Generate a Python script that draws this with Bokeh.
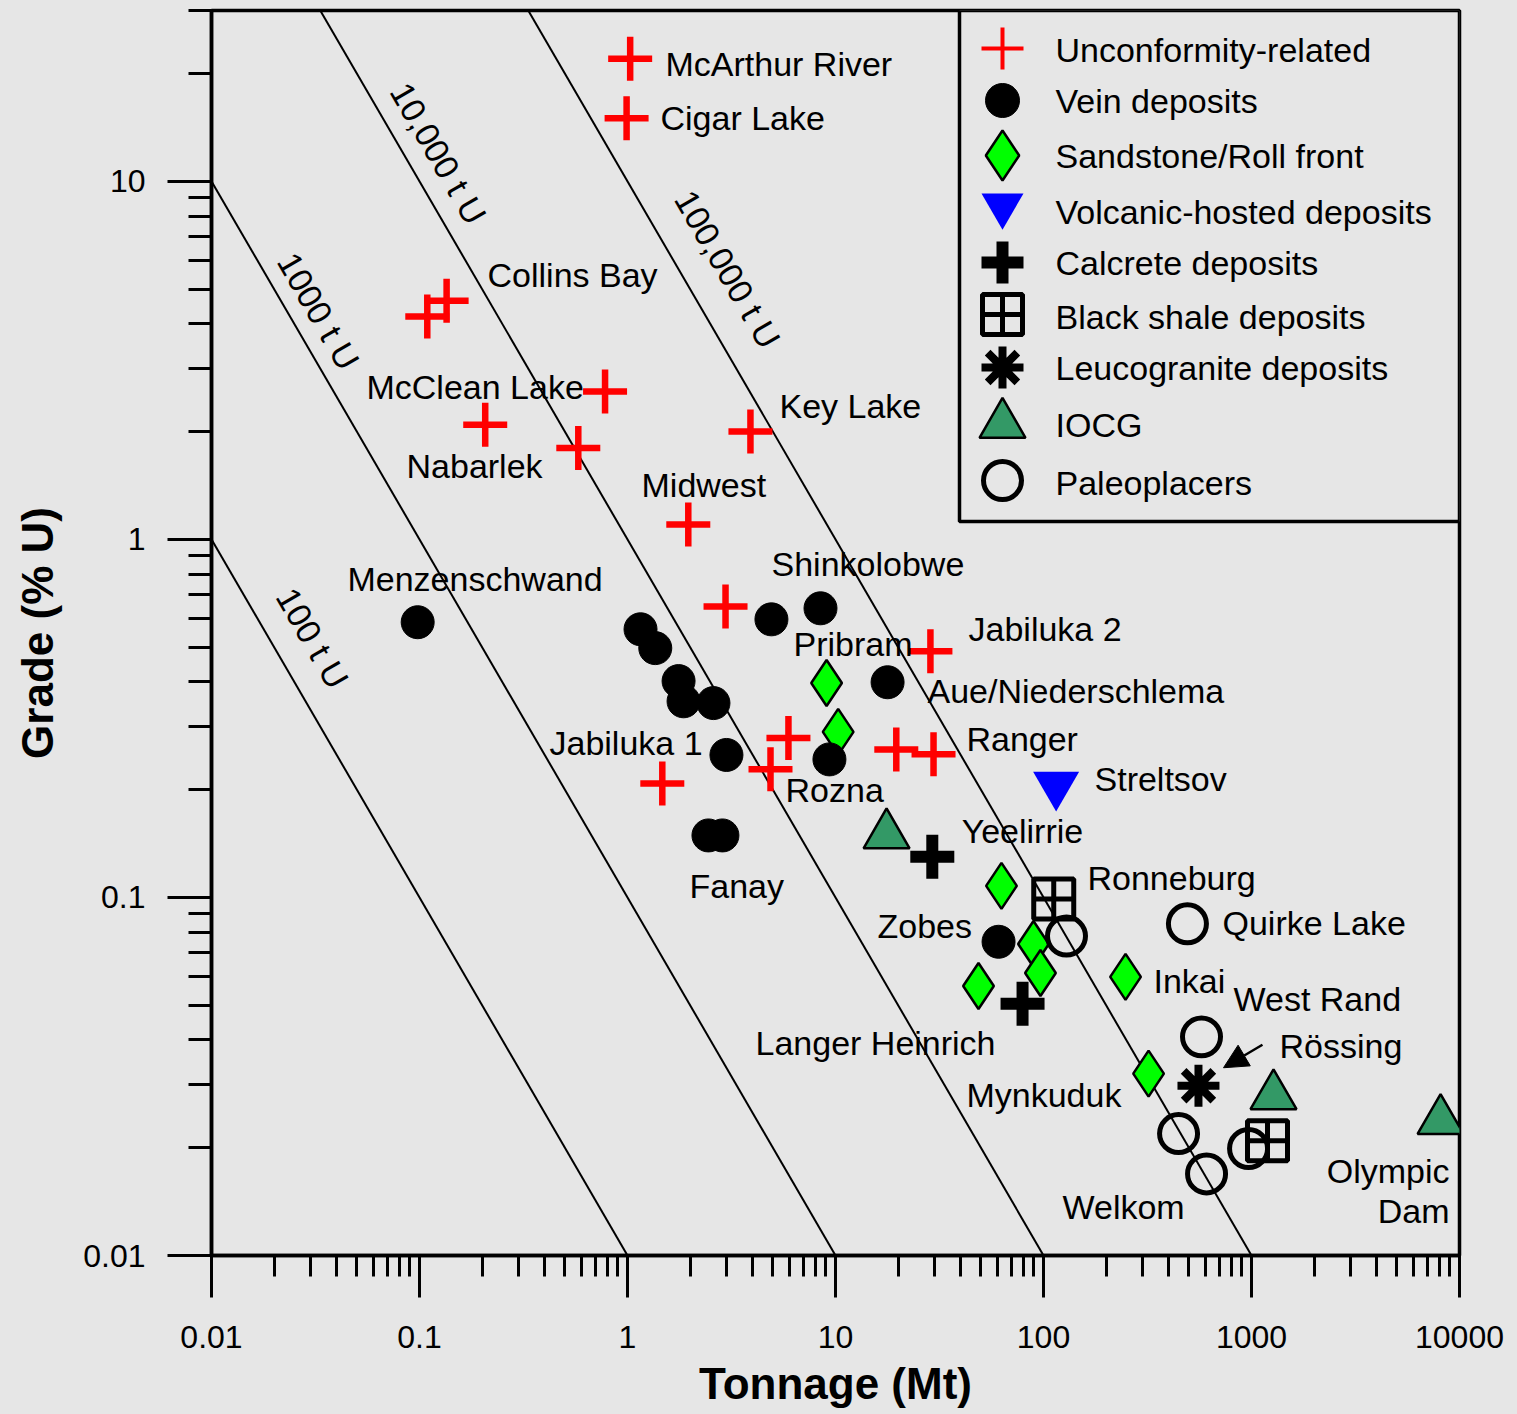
import math
from bokeh.plotting import figure
from bokeh.models import (Range1d, LinearScale, FixedTicker, CustomJSTickFormatter,
                          Arrow, NormalHead)
from bokeh.core.properties import value
from bokeh.embed import file_html
from bokeh.resources import INLINE

# ---------------- data (tonnage in Mt, grade in % U) ----------------
unc_tonnage = [1.03, 0.99, 0.109, 0.135, 0.78, 0.207, 0.58, 3.9, 1.96, 2.96, 28.6, 5.94, 4.87, 1.47, 19.6, 29.6]
unc_grade = [22.0, 15.0, 4.19, 4.64, 2.59, 2.09, 1.80, 2.0, 1.10, 0.65, 0.487, 0.279, 0.228, 0.208, 0.259, 0.251]

vein_tonnage = [0.098, 1.155, 1.36, 1.76, 1.86, 2.59, 2.99, 4.92, 8.47, 17.8, 9.35, 2.45, 2.86, 60.8]
vein_grade = [0.587, 0.561, 0.497, 0.402, 0.353, 0.349, 0.25, 0.598, 0.642, 0.399, 0.243, 0.149, 0.149, 0.0752]

sand_tonnage = [9.06, 10.3, 62.8, 89.5, 96.7, 48.7, 248, 320]
sand_grade = [0.397, 0.29, 0.1077, 0.0741, 0.0615, 0.0566, 0.060, 0.0322]

volc_tonnage = [115]
volc_grade = [0.206]

calc_tonnage = [29.2, 79.3]
calc_grade = [0.130, 0.0505]

shale_tonnage = [112, 1194]
shale_grade = [0.099, 0.0209]

leuco_tonnage = [556]
leuco_grade = [0.0298]

iocg_tonnage = [17.6, 1276, 8110]
iocg_grade = [0.1494, 0.0279, 0.0238]

paleo_tonnage = [129, 492, 575, 446, 608, 968]
paleo_grade = [0.078, 0.0844, 0.0408, 0.0219, 0.0169, 0.0199]

# contained-metal reference lines (t U)
contained_tU = [100, 1000, 10000, 100000]
contained_labels = ["100 t U", "1000 t U", "10,000 t U", "100,000 t U"]
contained_label_x = [0.0306, 0.0327, 0.1233, 3.03]
contained_label_y = [0.53, 4.34, 11.97, 5.68]

# deposit names
dep_names = ["McArthur River", "Cigar Lake", "Collins Bay", "McClean Lake", "Nabarlek", "Key Lake",
             "Midwest", "Menzenschwand", "Shinkolobwe", "Pribram", "Jabiluka 2", "Aue/Niederschlema",
             "Jabiluka 1", "Ranger", "Rozna", "Streltsov", "Yeelirrie", "Ronneburg", "Fanay", "Zobes",
             "Quirke Lake", "Inkai", "West Rand", "Langer Heinrich", "Rössing", "Mynkuduk", "Welkom"]
dep_label_x = [1.523, 1.441, 0.2123, 0.05561, 0.0866, 5.38,
               1.168, 0.04505, 4.924, 6.28, 43.6, 27.7,
               0.4217, 42.6, 5.75, 175.9, 40.4, 162.7, 1.986, 15.92,
               725.5, 338, 819.5, 4.125, 1363, 42.6, 123.4]
dep_label_y = [21.27, 15.04, 5.486, 2.672, 1.598, 2.365,
               1.415, 0.7733, 0.8516, 0.5095, 0.561, 0.3767,
               0.27, 0.2767, 0.1995, 0.2141, 0.1533, 0.1134, 0.1077, 0.0833,
               0.0849, 0.0585, 0.0521, 0.03927, 0.03853, 0.02812, 0.0137]
olympic_lines = ["Olympic", "Dam"]
olympic_x = [8955, 8955]
olympic_y = [0.01726, 0.01335]

arrow_from = (1129, 0.03878)
arrow_to = (733.6, 0.03345)

x_ticks = [0.01, 0.1, 1, 10, 100, 1000, 10000]
x_tick_labels = ["0.01", "0.1", "1", "10", "100", "1000", "10000"]
y_ticks = [0.01, 0.1, 1, 10]
y_tick_labels = ["0.01", "0.1", "1", "10"]

legend_labels = ["Unconformity-related", "Vein deposits", "Sandstone/Roll front",
                 "Volcanic-hosted deposits", "Calcrete deposits", "Black shale deposits",
                 "Leucogranite deposits", "IOCG", "Paleoplacers"]

X_MIN, X_MAX = 0.01, 10000
Y_MIN, Y_MAX = 0.01, 30

BG = "#e6e6e6"
FONT = "Liberation Sans"

p = figure(width=1517, height=1414, x_axis_type="log", y_axis_type="log",
           x_range=Range1d(X_MIN, X_MAX), y_range=Range1d(Y_MIN, Y_MAX),
           output_backend="svg", toolbar_location=None,
           min_border_left=211, min_border_right=58, min_border_top=10, min_border_bottom=159)
p.background_fill_color = BG
p.border_fill_color = BG
p.outline_line_color = "black"
p.outline_line_width = 3.5
p.grid.visible = False

# pixel-like helper ranges for the legend box
p.extra_x_ranges = {"lx": Range1d(0, 1248)}
p.extra_y_ranges = {"ly": Range1d(1245, 0)}
p.extra_x_scales = {"lx": LinearScale()}
p.extra_y_scales = {"ly": LinearScale()}

def minor(ticks):
    out = []
    for t in ticks[:-1]:
        out += [t * k for k in range(2, 10)]
    out += [ticks[-1] * 2, ticks[-1] * 3]
    return out

fmt_code = """
let best = -1;
for (let i = 0; i < tv.length; i++) {
  if (Math.abs(Math.log10(tv[i]) - Math.log10(tick)) < 1e-6) best = i;
}
return best >= 0 ? labs[best] : '';
"""
xa = p.xaxis[0]
ya = p.yaxis[0]
xa.ticker = FixedTicker(ticks=x_ticks, minor_ticks=minor(x_ticks)[:-2])
ya.ticker = FixedTicker(ticks=y_ticks, minor_ticks=minor(y_ticks))
xa.formatter = CustomJSTickFormatter(args=dict(tv=x_ticks, labs=x_tick_labels), code=fmt_code)
ya.formatter = CustomJSTickFormatter(args=dict(tv=y_ticks, labs=y_tick_labels), code=fmt_code)
xa.axis_label = "Tonnage (Mt)"
ya.axis_label = "Grade (% U)"
for ax in (xa, ya):
    ax.axis_line_width = 3.5
    ax.major_tick_line_width = 3
    ax.minor_tick_line_width = 3
    ax.major_tick_in = 0
    ax.minor_tick_in = 0
    ax.major_label_text_font = FONT
    ax.major_label_text_font_size = "32px"
    ax.major_label_text_color = "black"
    ax.axis_label_text_font = FONT
    ax.axis_label_text_font_style = "bold"
    ax.axis_label_text_font_size = "44px"
    ax.axis_label_text_color = "black"
xa.major_tick_out = 42
xa.minor_tick_out = 21
xa.major_label_standoff = 28
xa.axis_label_standoff = 8
ya.major_tick_out = 44
ya.minor_tick_out = 23
ya.major_label_standoff = 22
ya.axis_label_standoff = 18
ya.major_label_orientation = "horizontal"

# contained-uranium lines
for tU in contained_tU:
    xs = [tU / (Y_MAX * 1e4), tU / (Y_MIN * 1e4)]
    ys = [tU / (x * 1e4) for x in xs]
    p.line(xs, ys, line_color="black", line_width=2)
angle = -math.atan(358.5 / 208)
p.text(contained_label_x, contained_label_y, text=contained_labels, angle=angle,
       text_align="center", text_baseline="middle", text_font=value(FONT),
       text_font_size="34px", text_color="black")

# markers
def sandstone(x, y, size, rn={}):
    return p.scatter(x, y, marker="diamond", size=size, fill_color="#00ff00",
                     line_color="black", line_width=2.5, **rn)

def vein(x, y, size, rn={}):
    return p.scatter(x, y, marker="circle", size=size, fill_color="black",
                     line_color="black", line_width=1, **rn)

def iocg(x, y, size, rn={}):
    return p.scatter(x, y, marker="triangle", size=size, fill_color="#339966",
                     line_color="black", line_width=2.5, **rn)

def volc(x, y, size, rn={}):
    return p.scatter(x, y, marker="inverted_triangle", size=size, fill_color="#0000ff",
                     line_color=None, **rn)

def calc(x, y, size, rn={}):
    return p.scatter(x, y, marker="cross", size=size, line_color="black", line_width=12, **rn)

def shale(x, y, size, rn={}):
    return p.scatter(x, y, marker="square_cross", size=size, fill_color=None,
                     line_color="black", line_width=5, **rn)

def leuco(x, y, size, rn={}):
    return p.scatter(x, y, marker="asterisk", size=size, line_color="black", line_width=8, **rn)

def paleo(x, y, size, rn={}):
    return p.scatter(x, y, marker="circle", size=size, fill_color=None,
                     line_color="black", line_width=5, **rn)

def unc(x, y, size, lw, rn={}):
    return p.scatter(x, y, marker="cross", size=size, line_color="#ff0000", line_width=lw, **rn)

sandstone(sand_tonnage, sand_grade, 46)
vein(vein_tonnage, vein_grade, 33)
iocg(iocg_tonnage, iocg_grade, 46)
volc(volc_tonnage, volc_grade, 46)
calc(calc_tonnage, calc_grade, 44)
shale(shale_tonnage, shale_grade, 40)
leuco(leuco_tonnage, leuco_grade, 42)
paleo(paleo_tonnage, paleo_grade, 38)
unc(unc_tonnage, unc_grade, 44, 6.5)

# arrow to Rössing
p.add_layout(Arrow(end=NormalHead(size=24, fill_color="black", line_color="black", line_width=1),
                   x_start=arrow_from[0], y_start=arrow_from[1],
                   x_end=arrow_to[0], y_end=arrow_to[1],
                   line_color="black", line_width=2.5))

# deposit labels
p.text(dep_label_x, dep_label_y, text=dep_names, text_align="left", text_baseline="middle",
       text_font=value(FONT), text_font_size="34px", text_color="black")
p.text(olympic_x, olympic_y, text=olympic_lines, text_align="right", text_baseline="middle",
       text_font=value(FONT), text_font_size="34px", text_color="black")

# legend (drawn in frame pixel space)
rn = dict(x_range_name="lx", y_range_name="ly")
p.quad(left=[748], right=[1248], top=[0], bottom=[511], fill_color=BG,
       line_color="black", line_width=3.5, **rn)
mx = 791
rows = [38, 90, 145, 195, 252, 304, 357, 414, 470]
unc([mx], [rows[0]], 42, 4, rn)
vein([mx], [rows[1]], 34, rn)
p.scatter([mx], [rows[2]], marker="diamond", size=50, fill_color="#00ff00",
          line_color="black", line_width=2.5, **rn)
volc([mx], [rows[3]], 42, rn)
calc([mx], [rows[4]], 42, rn)
shale([mx], [rows[5]], 40, rn)
leuco([mx], [rows[6]], 42, rn)
iocg([mx], [rows[7]], 46, rn)
paleo([mx], [rows[8]], 38, rn)
text_rows = [39, 90, 145, 201, 252, 306, 357, 414, 472]
p.text([844] * len(legend_labels), text_rows, text=legend_labels, text_align="left",
       text_baseline="middle", text_font=value(FONT), text_font_size="34px",
       text_color="black", **rn)

html = file_html(p, INLINE)
html = html.replace("</head>", "<style>html, body { background-color: #e6e6e6; }</style></head>", 1)
open("out.html", "w").write(html)
